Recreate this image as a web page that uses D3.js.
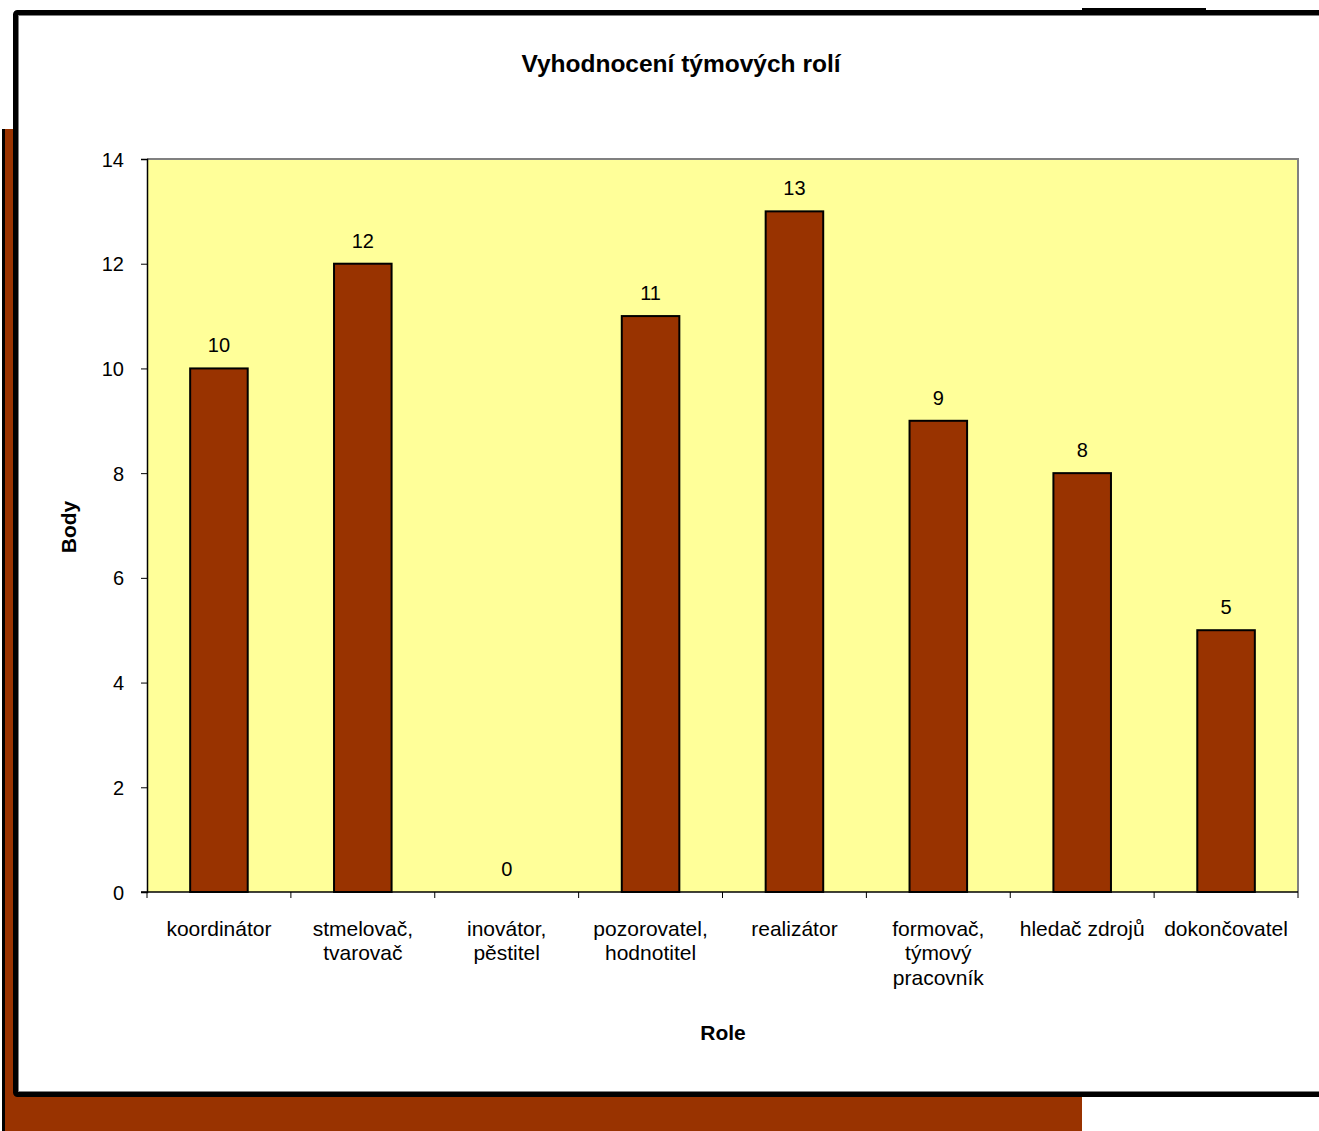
<!DOCTYPE html>
<html>
<head>
<meta charset="utf-8">
<script src="https://cdn.jsdelivr.net/npm/d3@7"></script>
<style>
  html, body { margin: 0; padding: 0; background: #ffffff; overflow: hidden; }
  svg { display: block; }
  text { font-family: "Liberation Sans", Arial, sans-serif; fill: #000; }
</style>
</head>
<body>
<svg id="chart" width="1319" height="1131"></svg>
<script>
// ---- data ----
const categories = [
  ["koordinátor"],
  ["stmelovač,", "tvarovač"],
  ["inovátor,", "pěstitel"],
  ["pozorovatel,", "hodnotitel"],
  ["realizátor"],
  ["formovač,", "týmový", "pracovník"],
  ["hledač zdrojů"],
  ["dokončovatel"]
];
const values = [10, 12, 0, 11, 13, 9, 8, 5];
const yTicks = [0, 2, 4, 6, 8, 10, 12, 14];
const titleText = "Vyhodnocení týmových rolí";
const xTitle = "Role";
const yTitle = "Body";

// ---- layout ----
const W = 1319, H = 1131;
const plot = { left: 147, top: 159, right: 1298, bottom: 892 };
const svg = d3.select("#chart");

// background decorative shapes (brown shape behind the chart frame)
svg.append("rect").attr("x", 5).attr("y", 129).attr("width", 1077).attr("height", H - 129).attr("fill", "#993300");
svg.append("rect").attr("x", 2).attr("y", 129).attr("width", 3).attr("height", H - 129).attr("fill", "#000");
svg.append("rect").attr("x", 1082).attr("y", 8).attr("width", 124).attr("height", 4).attr("fill", "#000");

// chart frame
svg.append("rect").attr("x", 15.5).attr("y", 12.5).attr("width", 1400).attr("height", 1082)
  .attr("rx", 2).attr("fill", "#fff").attr("stroke", "#000").attr("stroke-width", 5);
svg.append("rect").attr("x", 18.5).attr("y", 15.5).attr("width", 1400).attr("height", 1076)
  .attr("fill", "none").attr("stroke", "#808080").attr("stroke-width", 1);

// scales
const x = d3.scaleBand().domain(d3.range(categories.length))
  .range([plot.left, plot.right]).paddingInner(0).paddingOuter(0);
const y = d3.scaleLinear().domain([0, 14]).range([plot.bottom, plot.top]);

// plot area
svg.append("rect").attr("x", plot.left).attr("y", plot.top)
  .attr("width", plot.right - plot.left).attr("height", plot.bottom - plot.top)
  .attr("fill", "#FFFF99");
svg.append("path")
  .attr("d", `M${plot.left},${plot.top}H${plot.right}V${plot.bottom}`)
  .attr("fill", "none").attr("stroke", "#808080").attr("stroke-width", 2);

// bars
const barW = x.bandwidth() * 0.4;
svg.append("g").selectAll("rect").data(values).join("rect")
  .attr("x", (d, i) => x(i) + (x.bandwidth() - barW) / 2)
  .attr("y", d => y(d))
  .attr("width", barW)
  .attr("height", d => y(0) - y(d))
  .attr("fill", "#993300")
  .attr("stroke", "#000")
  .attr("stroke-width", d => d > 0 ? 2 : 0);

// data labels
svg.append("g").selectAll("text").data(values).join("text")
  .attr("x", (d, i) => x(i) + x.bandwidth() / 2)
  .attr("y", d => y(d) - 16)
  .attr("text-anchor", "middle")
  .attr("font-size", 20)
  .text(d => d);

// y axis
const yAxis = d3.axisLeft(y).tickValues(yTicks).tickSize(6).tickPadding(17).tickFormat(d3.format("d"));
const gy = svg.append("g").attr("transform", `translate(${plot.left},0)`).call(yAxis);
gy.select(".domain").attr("stroke", "#000").attr("stroke-width", 1.5);
gy.selectAll(".tick line").attr("stroke", "#000");
gy.selectAll(".tick text").attr("font-size", 20).attr("font-family", "Liberation Sans, Arial, sans-serif").attr("fill", "#000").attr("dy", "0.35em");

// x axis (category boundary ticks)
const gx = svg.append("g").attr("transform", `translate(0,${plot.bottom})`);
gx.append("line").attr("x1", plot.left - 6).attr("x2", plot.right).attr("y1", 0).attr("y2", 0)
  .attr("stroke", "#000").attr("stroke-width", 1.5);
gx.selectAll("line.tk").data(d3.range(categories.length + 1)).join("line")
  .attr("class", "tk")
  .attr("x1", i => i < categories.length ? x(i) : plot.right)
  .attr("x2", i => i < categories.length ? x(i) : plot.right)
  .attr("y1", 0).attr("y2", 6)
  .attr("stroke", "#000");

// category labels
const catG = svg.append("g").selectAll("text").data(categories).join("text")
  .attr("text-anchor", "middle")
  .attr("font-size", 21);
catG.selectAll("tspan").data((d, i) => d.map(s => ({ s, i }))).join("tspan")
  .attr("x", d => x(d.i) + x.bandwidth() / 2)
  .attr("y", (d, j) => 936 + j * 24.3)
  .text(d => d.s);

// titles
svg.append("text").attr("x", 681).attr("y", 72).attr("text-anchor", "middle")
  .attr("font-size", 24.5).attr("font-weight", "bold").text(titleText);
svg.append("text").attr("x", 723).attr("y", 1040).attr("text-anchor", "middle")
  .attr("font-size", 21).attr("font-weight", "bold").text(xTitle);
svg.append("text").attr("transform", "translate(76,527) rotate(-90)").attr("text-anchor", "middle")
  .attr("font-size", 21).attr("font-weight", "bold").text(yTitle);
</script>
</body>
</html>
